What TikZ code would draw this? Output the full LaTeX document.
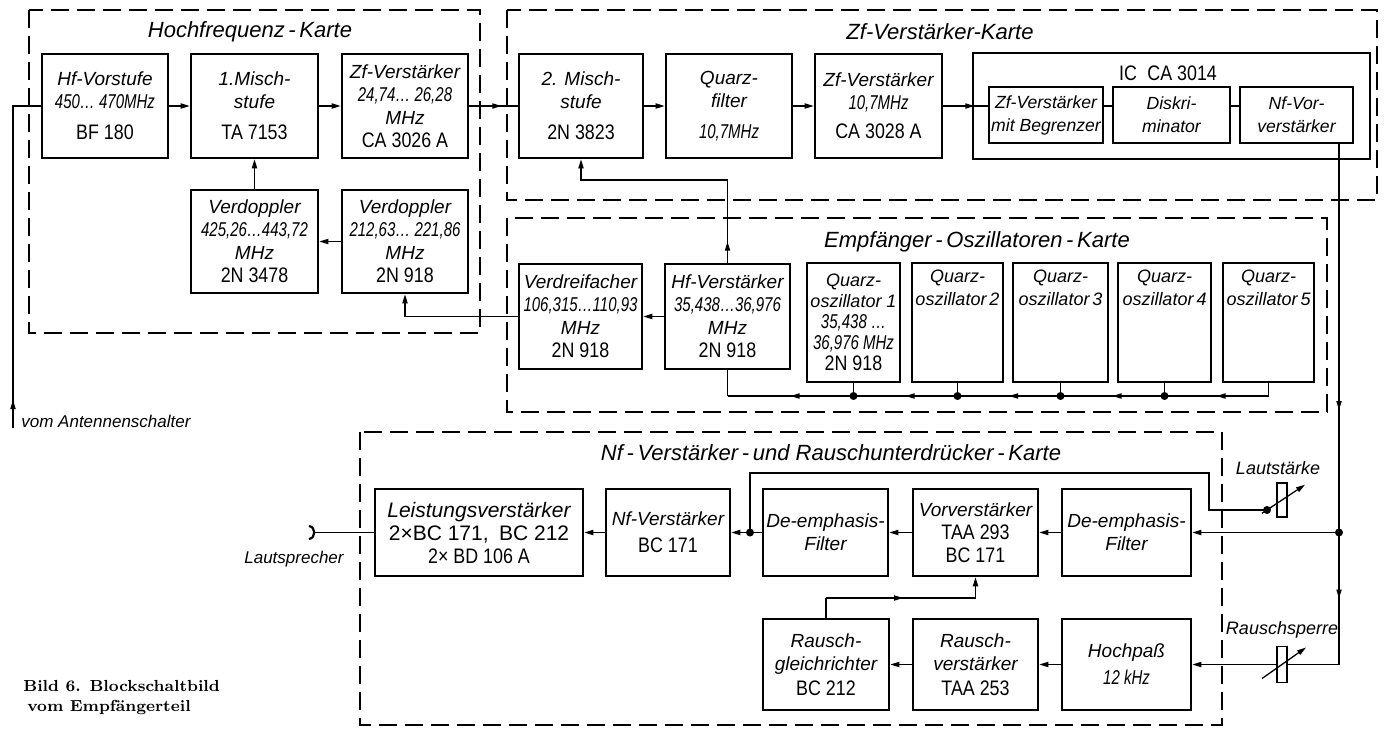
\documentclass[tikz,border=0pt]{standalone}
\usepackage{fontspec}
\usetikzlibrary{arrows.meta,decorations.markings,calc}
\setsansfont{Liberation Sans}
\newfontfamily\labfam{Liberation Sans}
\newfontfamily\numfam{Liberation Sans}[FakeStretch=0.75]
\newfontfamily\prtfam{Liberation Sans}[FakeStretch=0.85]
\newcommand\labf{\labfam\itshape\fontsize{9.5}{11.5}\selectfont}
\newcommand\numf{\numfam\itshape\fontsize{10}{11.5}\selectfont}
\newcommand\prtf{\prtfam\upshape\fontsize{10.5}{12}\selectfont}
\newcommand\rgf{\labfam\upshape\fontsize{10.5}{13}\selectfont}
\begin{document}
\begin{tikzpicture}[x=0.5pt,y=-0.5pt,
  >={Triangle[length=4.5pt,width=2.6pt]},
  blk/.style={draw,line width=1.3pt,inner sep=0pt,align=center,font=\labf},
  qbox/.style={blk,font={\labfam\itshape\fontsize{9}{10.5}\selectfont}},
  icbox/.style={blk,font={\labfam\itshape\fontsize{8.8}{11.5}\selectfont}},
  card/.style={draw,line width=1pt,dash pattern=on 9pt off 4pt},
  conn/.style={line width=0.65pt},
  marr/.style={postaction={decorate,decoration={markings,mark=at position #1 with {\arrow{>}}}}},
  ttl/.style={inner sep=0pt,font={\labfam\itshape\fontsize{11}{13}\selectfont}},
  lbl/.style={inner sep=0pt,font={\labfam\itshape\fontsize{9}{11}\selectfont}},
  dot/.style={circle,fill,inner sep=0pt,minimum size=4pt},
  pot/.style={draw,line width=0.85pt,fill=white,inner sep=0pt,minimum width=5pt}
]
\useasboundingbox (0,0) rectangle (1390,729);

% ---------- cards ----------
\draw[card] (29,10) rectangle (480,333);
\draw[card] (507,10) rectangle (1377,200);
\draw[card] (507,218) rectangle (1327,412);
\draw[card] (360,432) rectangle (1222,725);

\node[ttl] (t1) at (250,32) {Hochfrequenz\,-\,Karte};
\node[ttl] (t2) at (940,32) {Zf-Verstärker-Karte};
\node[ttl] (t3) at (977,242) {Empfänger\,-\,Oszillatoren\,-\,Karte};
\node[ttl] (t4) at (831,453) {Nf\,-\,Verstärker\,-\,und Rauschunterdrücker\,-\,Karte};

% ---------- Hochfrequenz-Karte ----------
\node[blk,minimum width=63pt,minimum height=52pt] (hfv) at (105,106)
  {Hf-Vorstufe\\ \numf 450… 470MHz\\[4pt] \prtf BF 180};
\node[blk,minimum width=63.5pt,minimum height=52pt] (mix1) at (254.5,106)
  {1.Misch-\\stufe\\[4pt] \prtf TA 7153};
\node[blk,minimum width=63pt,minimum height=52pt] (zf1) at (405,106)
  {Zf-Verstärker\\ \numf 24,74… 26,28\\ MHz\\ \prtf CA 3026 A};
\node[blk,minimum width=63.5pt,minimum height=51.5pt] (vd1) at (254.5,241.5)
  {Verdoppler\\ \numf 425,26…443,72\\ MHz\\ \prtf 2N 3478};
\node[blk,minimum width=63pt,minimum height=51.5pt] (vd2) at (405,241.5)
  {Verdoppler\\ \numf 212,63… 221,86\\ MHz\\ \prtf 2N 918};

% ---------- Zf-Verstärker-Karte ----------
\node[blk,minimum width=62pt,minimum height=52pt] (mix2) at (581,106)
  {2. Misch-\\stufe\\[4pt] \prtf 2N 3823};
\node[blk,minimum width=63pt,minimum height=52pt] (qf) at (729,106)
  {Quarz-\\filter\\[4pt] \numf 10,7MHz};
\node[blk,minimum width=63.5pt,minimum height=52pt] (zf2) at (878.5,106)
  {Zf-Verstärker\\ \numf 10,7MHz\\[3pt] \prtf CA 3028 A};
\node[blk,minimum width=198.5pt,minimum height=53pt] (ic) at (1171.5,106) {};
\node[inner sep=0pt,font=\prtf] (iclab) at (1168,73) {IC\enspace CA 3014};
\node[icbox,minimum width=57pt,minimum height=28pt] (ic1) at (1046,115) {Zf-Verstärker\\mit Begrenzer};
\node[icbox,minimum width=58.5pt,minimum height=28pt] (ic2) at (1171.5,115) {Diskri-\\minator};
\node[icbox,minimum width=56.5pt,minimum height=28pt] (ic3) at (1296.5,115) {Nf-Vor-\\verstärker};

% ---------- Empfänger-Oszillatoren-Karte ----------
\node[blk,minimum width=61.5pt,minimum height=52.5pt] (vf) at (580.5,316.5)
  {Verdreifacher\\ \numf 106,315…110,93\\ MHz\\ \prtf 2N 918};
\node[blk,minimum width=62.5pt,minimum height=52.5pt] (hfa) at (727.5,316.5)
  {Hf-Verstärker\\ \numf 35,438…36,976\\ MHz\\ \prtf 2N 918};
\node[qbox,minimum width=46.5pt,minimum height=59.5pt] (q1) at (853.5,322.5)
  {Quarz-\\oszillator 1\\ \numf 35,438 …\\ \numf 36,976 MHz\\ \prtf 2N 918};
\node[qbox,minimum width=45.5pt,minimum height=59.5pt] (q2) at (957.5,322.5) {};
\node[qbox,minimum width=47.5pt,minimum height=59.5pt] (q3) at (1060.5,322.5) {};
\node[qbox,minimum width=46.5pt,minimum height=59.5pt] (q4) at (1164.5,322.5) {};
\node[qbox,minimum width=45.5pt,minimum height=59.5pt] (q5) at (1268.5,322.5) {};
\foreach \q in {2,3,4,5}{
  \node[anchor=north,inner sep=0pt,align=center,font={\labfam\itshape\fontsize{9}{11.5}\selectfont}]
    (q\q t) at ([yshift=-4pt]q\q.north) {Quarz-\\oszillator\,\q};
}

% ---------- Nf-Karte ----------
\node[blk,minimum width=104pt,minimum height=43.5pt] (lv) at (479,532.5)
  {\fontsize{10.5}{13.5}\selectfont Leistungsverstärker\\ \rgf 2×BC 171,\enspace BC 212\\ \prtf 2× BD 106 A};
\node[blk,minimum width=62pt,minimum height=43.5pt] (nfa) at (668,532.5)
  {Nf-Verstärker\\[2pt] \prtf BC 171};
\node[blk,minimum width=62.5pt,minimum height=43.5pt] (de1) at (825.5,532.5)
  {De-emphasis-\\Filter};
\node[blk,minimum width=62.5pt,minimum height=43.5pt] (vv) at (975.5,532.5)
  {Vorverstärker\\ \prtf TAA 293\\ \prtf BC 171};
\node[blk,minimum width=64.5pt,minimum height=43.5pt] (de2) at (1126.5,532.5)
  {De-emphasis-\\Filter};
\node[blk,minimum width=63pt,minimum height=45.5pt] (rg) at (826,664.5)
  {Rausch-\\gleichrichter\\[1pt] \prtf BC 212};
\node[blk,minimum width=62.5pt,minimum height=45.5pt] (rv) at (975.5,664.5)
  {Rausch-\\verstärker\\[1pt] \prtf TAA 253};
\node[blk,minimum width=64.5pt,minimum height=45.5pt] (hp) at (1126.5,664.5)
  {Hochpaß\\[2pt] \numf 12 kHz};

% ---------- connectors: HF ----------
\coordinate (ant) at (13,428);
\draw[conn,marr=14pt] (ant) |- (hfv.west);
\node[lbl,anchor=west,font={\labfam\itshape\fontsize{8.5}{10}\selectfont}] (antlab) at (21,421) {vom Antennenschalter};
\draw[conn,->] (hfv.east) -- (mix1.west);
\draw[conn,->] (mix1.east) -- (zf1.west);
\draw[conn,marr=16pt] (zf1.east) -- (mix2.west);
\draw[conn,->] (vd1.north) -- (mix1.south);
\draw[conn,->] (vd2.west) -- (vd1.east);
\draw[conn,->] (vf.west) -| (vd2.south);

% ---------- connectors: ZF ----------
\draw[conn,->] (mix2.east) -- (qf.west);
\draw[conn,->] (qf.east) -- (zf2.west);
\draw[conn,marr=15.5pt] (zf2.east) -- (zf2.east -| ic1.west);
\draw[conn] (ic1.east |- zf2.east) -- (ic2.west |- zf2.east);
\draw[conn] (ic2.east |- zf2.east) -- (ic3.west |- zf2.east);

% ---------- connectors: oscillators ----------
\coordinate (hk) at (727.5,180);
\draw[conn,marr=10.5pt] (hfa.north) -- (hk);
\draw[conn,->] (hk) -| (mix2.south);
\draw[conn,->] (hfa.west) -- (vf.east);
\coordinate (bus) at (0,396);
\coordinate (b0) at (hfa.south |- bus);
\foreach \i in {1,...,5}{ \coordinate (b\i) at (q\i.south |- bus); }
\draw[conn] (hfa.south) -- (b0);
\draw[conn] (q5.south) -- (b5);
\foreach \i/\j in {5/4,4/3,3/2,2/1,1/0}{ \draw[conn,marr=0.5] (b\i) -- (b\j); }
\foreach \i in {1,2,3,4}{ \draw[conn] (q\i.south) -- (b\i); \node[dot] (d\i) at (b\i) {}; }

% ---------- connectors: Nf ----------
\coordinate (vt) at (1339,143);
\coordinate (j2) at (1339,532.5);
\coordinate (c3) at (1339,664.5);
\draw[conn,marr=133.5pt] (vt) -- (j2);
\draw[conn,marr=0.5] (j2) -- (c3);
\draw[conn,->] (j2) -- (de2.east);
\draw[conn,->] (c3) -- (hp.east);
\node[dot] (j2d) at (j2) {};
\draw[conn,->] (de2.west) -- (vv.east);
\draw[conn,->] (vv.west) -- (de1.east);
\draw[conn,->] (de1.west) -- (nfa.east);
\draw[conn,->] (nfa.west) -- (lv.east);
\coordinate (j1) at (750,532.5);
\node[dot] (j1d) at (j1) {};
\draw[conn,->] (hp.west) -- (rv.east);
\draw[conn,->] (rv.west) -- (rg.east);
\coordinate (rk) at (826,598);
\draw[conn] (rg.north) -- (rk);
\draw[conn,marr=38.5pt,->] (rk) -| (vv.south);

% Lautstärke
\coordinate (fb1) at (1209,473);
\coordinate (lsd) at (1267,510);
\draw[conn] (j1) |- (fb1) |- (lsd);
\node[pot,minimum height=17pt] (ls) at (1282,500) {};
\draw[conn,->] ($(ls)+(-20,13.3)$) -- ($(ls)+(23,-15.3)$);
\node[dot] (lsdot) at (lsd) {};
\node[lbl] (lslab) at (1278,468) {Lautstärke};

% Rauschsperre
\node[pot,minimum height=18pt] (rs) at (1282,664.5) {};
\draw[conn,->] ($(rs)+(-20,14)$) -- ($(rs)+(24,-17)$);
\node[lbl] (rslab) at (1282,630) {Rauschsperre};

% Lautsprecher
\coordinate (jk) at (314,532.5);
\draw[conn] (lv.west) -- (jk);
\draw[line width=1.1pt] ($(jk)+(-5,-6.5)$) .. controls ($(jk)+(2,-5.5)$) and ($(jk)+(2,5.5)$) .. ($(jk)+(-5,6.5)$);
\node[lbl,font={\labfam\itshape\fontsize{8.5}{10}\selectfont}] (lslabel) at (294,559) {Lautsprecher};

% caption
\node[anchor=north west,align=left,inner sep=0pt,font=\rmfamily\bfseries\fontsize{8}{10}\selectfont] (cap) at (23,680)
  {Bild 6. Blockschaltbild\\\hspace*{2pt}vom Empfängerteil};
\end{tikzpicture}
\end{document}
